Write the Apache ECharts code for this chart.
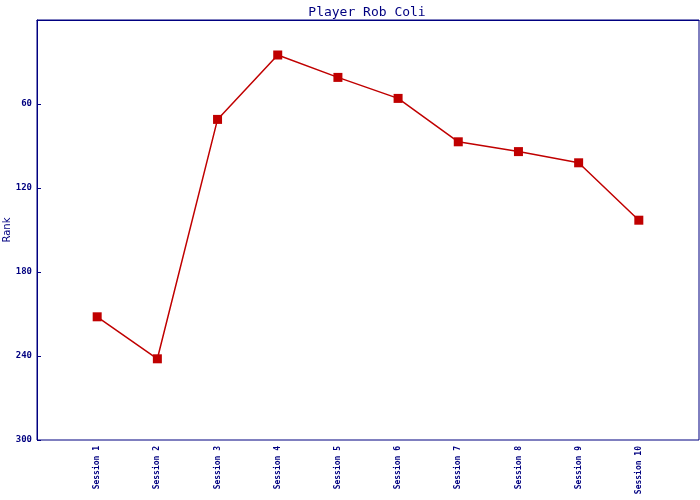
<!DOCTYPE html>
<html><head><meta charset="utf-8">
<script src="https://cdn.jsdelivr.net/npm/echarts@6/dist/echarts.min.js"></script>
<style>html,body{margin:0;padding:0;background:#fff}#c{width:700px;height:500px}</style>
</head><body><div id="c"></div>
<script>
const categories = ['Session 1','Session 2','Session 3','Session 4','Session 5','Session 6','Session 7','Session 8','Session 9','Session 10'];
const ranks = [212, 242, 71, 25, 41, 56, 87, 94, 102, 143];
const yTicks = [60, 120, 180, 240, 300];

const navy = '#000080';
const xData = [''].concat(categories).concat(['']);
const seriesData = [null].concat(ranks).concat([null]);

const chart = echarts.init(document.getElementById('c'), null, {renderer:'canvas'});
chart.setOption({
  animation: false,
  backgroundColor: '#fff',
  title: {
    text: 'Player Rob Coli', left: 362, top: 1, textAlign: 'center',
    textStyle: {fontFamily: 'DejaVu Sans Mono', fontSize: 13, fontWeight: 'normal', color: navy}
  },
  grid: {left: 37, right: 1, top: 20, bottom: 60, containLabel: false, outerBoundsMode: 'none',
    show: true, borderColor: navy, borderWidth: 1, backgroundColor: 'transparent'},
  xAxis: {
    type: 'category', data: xData, boundaryGap: false,
    axisLine: {lineStyle: {color: navy, width: 1}},
    axisTick: {show: false},
    splitLine: {show: false},
    axisLabel: {rotate: 90, interval: 0, margin: 6, color: navy, fontFamily: 'DejaVu Sans Mono', fontSize: 8, fontWeight: 'bold'}
  },
  yAxis: {
    type: 'value', inverse: true, min: 0, max: 300, interval: 60,
    name: 'Rank', nameLocation: 'middle', nameGap: 25, nameMoveOverlap: false,
    nameTextStyle: {color: navy, fontFamily: 'DejaVu Sans', fontSize: 10},
    axisLine: {show: true, lineStyle: {color: navy, width: 1}},
    axisTick: {show: true, inside: true, length: 4, lineStyle: {color: navy}},
    splitLine: {show: false},
    axisLabel: {showMinLabel: false, margin: 5, color: navy, fontFamily: 'DejaVu Sans Mono', fontSize: 9, fontWeight: 'bold',
      formatter: v => yTicks.includes(v) ? String(v) : ''}
  },
  series: [{
    type: 'line', data: seriesData, connectNulls: false,
    symbol: 'rect', symbolSize: 9, showAllSymbol: true,
    lineStyle: {color: '#c00000', width: 1.5},
    itemStyle: {color: '#c00000'}
  }]
});
</script></body></html>
